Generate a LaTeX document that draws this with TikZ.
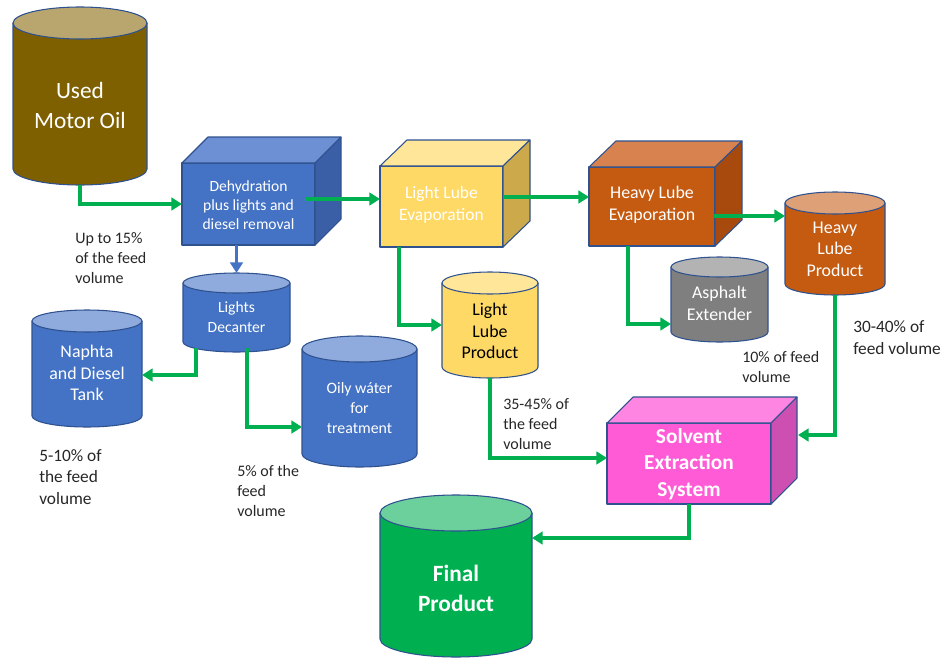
\documentclass[tikz,border=0pt]{standalone}
\usepackage{fontspec}
\setmainfont{Carlito}
\usetikzlibrary{arrows.meta,calc,fit}
\definecolor{edgeblue}{HTML}{2F528F}
\definecolor{flowgreen}{HTML}{00B050}
\definecolor{cBlue}{HTML}{4472C4}
\definecolor{cBlueTop}{HTML}{8FAADC}
\definecolor{cBlueBoxTop}{HTML}{6D8FD4}
\definecolor{cBlueSide}{HTML}{3A5FA6}
\definecolor{cYel}{HTML}{FFD966}
\definecolor{cYelTop}{HTML}{FFE699}
\definecolor{cYelSide}{HTML}{CCAA4B}
\definecolor{cOra}{HTML}{C55A11}
\definecolor{cOraTop}{HTML}{D8834F}
\definecolor{cOraSide}{HTML}{A84A0E}
\definecolor{cOraCylTop}{HTML}{DDA077}
\definecolor{cGray}{HTML}{7F7F7F}
\definecolor{cGrayTop}{HTML}{B3B3B3}
\definecolor{cGreen}{HTML}{00B050}
\definecolor{cGreenTop}{HTML}{6CD09C}
\definecolor{cOlive}{HTML}{7F6000}
\definecolor{cOliveTop}{HTML}{B9A66E}
\definecolor{cPink}{HTML}{FF5BD6}
\definecolor{cPinkTop}{HTML}{FF85E2}
\definecolor{cPinkSide}{HTML}{CD4FB2}
\definecolor{lblgray}{HTML}{262626}

\tikzset{
  outl/.style={draw=edgeblue, line width=0.8pt, line join=round},
  flow/.style={draw=flowgreen, line width=2.7pt, -{Triangle[length=8pt,width=9.5pt]}},
  bflow/.style={draw=cBlue, line width=2.7pt, -{Triangle[length=8pt,width=9.5pt]}},
  anchorbox/.style={inner sep=0pt, outer sep=0pt},
  frontface/.style={outl, inner sep=0pt, outer sep=0pt},
  lbl/.style={text=lblgray, align=left, anchor=west, inner sep=0pt},
  lblsmall/.style={lbl, font=\fontsize{12}{15}\selectfont},
  lblbig/.style={lbl, font=\fontsize{13}{16}\selectfont},
  drumtext/.style={align=center, inner sep=0pt, text=white}
}

% cylinder: x1, x2, top, bottom, ry, body colour, top colour
\newcommand\drum[7]{%
  \pgfmathsetmacro\dcx{(#1+#2)/2}%
  \pgfmathsetmacro\drx{(#2-#1)/2}%
  \pgfmathsetmacro\dkx{0.5523*\drx}%
  \pgfmathsetmacro\dky{0.5523*#5}%
  \pgfmathsetmacro\dcy{#3+#5}%
  \pgfmathsetmacro\dby{#4-#5}%
  \filldraw[outl, fill=#6] (#1,\dcy) -- (#1,\dby)
     .. controls (#1,\dby+\dky) and (\dcx-\dkx,#4) .. (\dcx,#4)
     .. controls (\dcx+\dkx,#4) and (#2,\dby+\dky) .. (#2,\dby)
     -- (#2,\dcy) -- cycle;
  \filldraw[outl, fill=#7] (#1,\dcy)
     .. controls (#1,\dcy-\dky) and (\dcx-\dkx,#3) .. (\dcx,#3)
     .. controls (\dcx+\dkx,#3) and (#2,\dcy-\dky) .. (#2,\dcy)
     .. controls (#2,\dcy+\dky) and (\dcx+\dkx,\dcy+#5) .. (\dcx,\dcy+#5)
     .. controls (\dcx-\dkx,\dcy+#5) and (#1,\dcy+\dky) .. (#1,\dcy) -- cycle;
}
% 3D box faces: node name, depth x, top colour, side colour
\newcommand\cubefaces[4]{%
  \filldraw[outl, fill=#3] (#1.north west) -- ++(#2,-26) -- ($(#1.north east)+(#2,-26)$) -- (#1.north east) -- cycle;
  \filldraw[outl, fill=#4] (#1.north east) -- ++(#2,-26) -- ($(#1.south east)+(#2,-26)$) -- (#1.south east) -- cycle;
}

\begin{document}
\begin{tikzpicture}[x=0.75pt,y=-0.75pt]
\useasboundingbox (0,0) rectangle (947,664);

% ---------- cylinders ----------
\drum{13}{147}{7}{185}{16}{cOlive}{cOliveTop}
\node[anchorbox, fit={(13,7) (147,185)}] (umo) {};
\node[drumtext, font=\fontsize{17.5}{22.5}\selectfont] (umot) at (80,105) {Used\\Motor Oil};

\drum{183}{290}{273}{352}{10}{cBlue}{cBlueTop}
\node[anchorbox, fit={(183,273) (290,352)}] (dec) {};
\node[drumtext, font=\fontsize{11.7}{15}\selectfont] (dect) at (236.5,317) {Lights\\Decanter};

\drum{32}{142}{310}{427}{11}{cBlue}{cBlueTop}
\node[anchorbox, fit={(32,310) (142,427)}] (nap) {};
\node[drumtext, font=\fontsize{13.4}{16}\selectfont] (napt) at (87,373) {Naphta\\and Diesel\\Tank};

\drum{302}{417}{336}{467}{13}{cBlue}{cBlueTop}
\node[anchorbox, fit={(302,336) (417,467)}] (oily) {};
\node[drumtext, font=\fontsize{11.9}{15}\selectfont] (oilyt) at (359.5,408) {Oily wáter\\for\\treatment};

\drum{442}{538}{272}{378}{11}{cYel}{cYelTop}
\node[anchorbox, fit={(442,272) (538,378)}] (llp) {};
\node[drumtext, text=black, font=\fontsize{13.4}{16}\selectfont] (llpt) at (490,331) {Light\\Lube\\Product};

\drum{671}{768}{257}{342}{10}{cGray}{cGrayTop}
\node[anchorbox, fit={(671,257) (768,342)}] (asp) {};
\node[drumtext, font=\fontsize{13.4}{16}\selectfont] (aspt) at (719.5,303.5) {Asphalt\\Extender};

\drum{785}{885}{192}{295}{11}{cOra}{cOraCylTop}
\node[anchorbox, fit={(785,192) (885,295)}] (hlp) {};
\node[drumtext, font=\fontsize{13.4}{16}\selectfont] (hlpt) at (835,249) {Heavy\\Lube\\Product};

\drum{380}{532}{495}{657}{18}{cGreen}{cGreenTop}
\node[anchorbox, fit={(380,495) (532,657)}] (fin) {};
\node[drumtext, font=\bfseries\fontsize{17.5}{22.5}\selectfont] (fint) at (456,588) {Final\\Product};

% ---------- boxes ----------
\node[frontface, fill=cBlue, fit={(182,163) (315,245)}] (dehy) {};
\cubefaces{dehy}{26}{cBlueBoxTop}{cBlueSide}
\node[drumtext, font=\fontsize{11.7}{14.3}\selectfont] (dehyt) at (248.5,205) {Dehydration\\plus lights and\\diesel removal};

\node[frontface, fill=cYel, fit={(380,166) (503,247)}] (lle) {};
\cubefaces{lle}{27}{cYelTop}{cYelSide}
\node[drumtext, font=\fontsize{13.1}{16.5}\selectfont] (llet) at (441.5,205) {Light Lube\\Evaporation};

\node[frontface, fill=cOra, fit={(589,167) (715,246)}] (hle) {};
\cubefaces{hle}{27}{cOraTop}{cOraSide}
\node[drumtext, font=\fontsize{13.4}{16.5}\selectfont] (hlet) at (652,205) {Heavy Lube\\Evaporation};

\node[frontface, fill=cPink, fit={(607,423) (771,504)}] (ses) {};
\cubefaces{ses}{26}{cPinkTop}{cPinkSide}
\node[drumtext, font=\bfseries\fontsize{16}{20}\selectfont] (sest) at (689,464) {Solvent\\Extraction\\System};

% ---------- connectors ----------
\draw[flow] (umo.south) |- (dehy.west);
\draw[flow] ($(dehy.east)+(-10,-5)$) coordinate (d1) -- (d1 -| lle.west);
\draw[flow] ($(lle.east)+(0,-9.5)$) coordinate (l1) -- (l1 -| hle.west);
\draw[flow] ($(hle.east)+(-2,9.5)$) coordinate (h1) -- (h1 -| hlp.west);
\draw[flow] ($(lle.south west)+(19,0)$) |- (llp.west);
\draw[flow] ($(hle.south west)+(39,0)$) |- ($(asp.south west)+(0,-18)$);
\draw[bflow] (dehy.south -| dec.north) -- (dec.north);
\draw[flow] ($(dec.south west)+(13,-4)$) |- ($(nap.east)+(0,6.5)$);
\draw[flow] ($(dec.south)+(10.5,-4)$) |- ($(oily.west)+(0,25.5)$);
\draw[flow] (llp.south) |- ($(ses.west)+(0,-5.5)$);
\draw[flow] (hlp.south) |- ($(ses.east)+(27,-28.5)$);
\draw[flow] (ses.south) |- ($(fin.east)+(0,-38)$);

% ---------- labels ----------
\node[lblsmall] (l15) at (75,258) {Up to 15\%\\of the feed\\volume};
\node[lblbig] (l510) at (39,477) {5-10\% of\\the feed\\volume};
\node[lblsmall] (l5) at (237,491) {5\% of the\\feed\\volume};
\node[lblsmall] (l3545) at (503,424) {35-45\% of\\the feed\\volume};
\node[lblsmall] (l10) at (742,367) {10\% of feed\\volume};
\node[lblbig] (l3040) at (853,337.5) {30-40\% of\\feed volume};
\end{tikzpicture}
\end{document}
